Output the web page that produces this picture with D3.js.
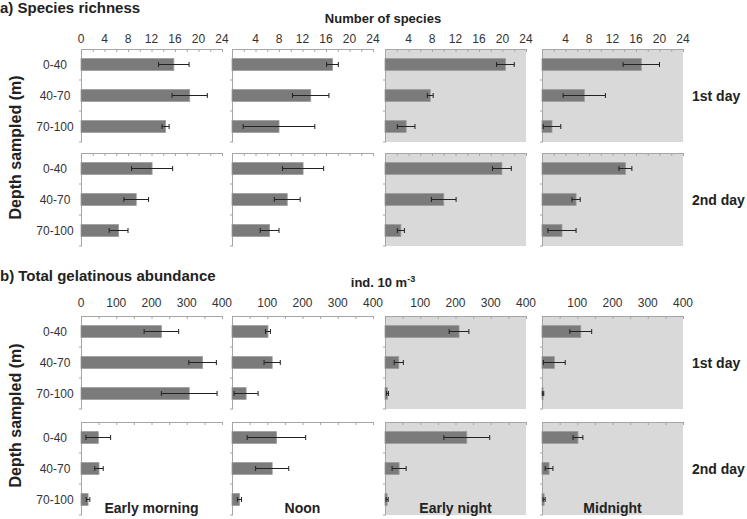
<!DOCTYPE html>
<html><head><meta charset="utf-8">
<script src="https://cdn.jsdelivr.net/npm/d3@7"></script>
<style>body{margin:0;background:#fff}svg{display:block;font-family:"Liberation Sans",Arial,sans-serif}</style>
</head><body><svg id="c" width="747" height="519"></svg>
<script>
const depths = ["0-40", "40-70", "70-100"];
const periods = ["Early morning", "Noon", "Early night", "Midnight"];
const days = ["1st day", "2nd day"];
const nightPeriods = ["Early night", "Midnight"];

const richnessTicks = [0, 4, 8, 12, 16, 20, 24];
const abundanceTicks = [0, 100, 200, 300, 400];

// Species richness (number of species), [period][depth]
const richDay1 = [[15.8, 18.5, 14.4], [17.1, 13.4, 8.0], [20.5, 7.7, 3.6], [16.9, 7.2, 1.7]];
const richDay1Err = [[2.6, 3.0, 0.6], [1.0, 3.1, 6.1], [1.5, 0.5, 1.5], [3.1, 3.6, 1.5]];
const richDay2 = [[12.1, 9.4, 6.4], [12.1, 9.4, 6.4], [19.9, 10.0, 2.7], [14.2, 5.8, 3.4]];
const richDay2Err = [[3.5, 2.1, 1.6], [3.5, 2.2, 1.6], [1.6, 2.1, 0.6], [1.1, 0.7, 2.4]];

// Total gelatinous abundance (ind. 10 m-3), [period][depth]
const abunDay1 = [[228, 345, 307], [102, 114, 40], [210, 39, 7], [110, 35, 3]];
const abunDay1Err = [[49, 39, 79], [7, 23, 34], [28, 13, 3], [31, 31, 2]];
const abunDay2 = [[49, 51, 20], [126, 114, 21], [232, 40, 6], [102, 20, 6]];
const abunDay2Err = [[35, 12, 5], [83, 47, 6], [65, 20, 3], [14, 11, 3]];

const svg = d3.select("#c");
const panelX = [81, 232, 385, 542];
const panelW = 141;
const panelH = 93;
const AX = "#a6a6a6";

const sections = [
  {title: "a) Species richness", titleY: 13, unitY: 23, unit: "Number of species", max: 24,
   ticks: richnessTicks, minor: 2, tops: [49, 153], labelOff: 6,
   data: [[richDay1, richDay1Err], [richDay2, richDay2Err]]},
  {title: "b) Total gelatinous abundance", titleY: 281, unitY: 287, unit: "ind. 10 m", max: 400,
   ticks: abundanceTicks, minor: 50, tops: [316, 422], labelOff: 9,
   data: [[abunDay1, abunDay1Err], [abunDay2, abunDay2Err]]}
];

sections.forEach((s, si) => {
  svg.append("text").attr("x", 0).attr("y", s.titleY).attr("font-size", 15)
    .attr("font-weight", "bold").attr("fill", "#222").text(s.title);
  const ut = svg.append("text").attr("x", 383).attr("y", s.unitY).attr("text-anchor", "middle")
    .attr("font-size", 13).attr("font-weight", "bold").attr("fill", "#222").text(s.unit);
  if (si === 1) ut.append("tspan").attr("dy", -5).attr("font-size", 9).text("-3");

  const midY = (s.tops[0] + s.tops[1] + panelH) / 2;
  svg.append("text").attr("transform", `translate(21,${midY}) rotate(-90)`)
    .attr("text-anchor", "middle").attr("font-size", 16).attr("font-weight", "bold")
    .attr("fill", "#222").text("Depth sampled (m)");

  s.tops.forEach((top, di) => {
    const y = d3.scaleBand().domain(depths).range([top, top + panelH])
      .paddingInner(0.62).paddingOuter(0.31);
    const [vals, errs] = s.data[di];

    svg.append("text").attr("x", 692).attr("y", top + panelH / 2 + 5)
      .attr("font-size", 14).attr("font-weight", "bold").attr("fill", "#222").text(days[di]);

    periods.forEach((p, pi) => {
      const x0 = panelX[pi];
      const x = d3.scaleLinear().domain([0, s.max]).range([x0, x0 + panelW]);
      const g = svg.append("g");
      if (nightPeriods.includes(p)) {
        g.append("rect").attr("x", x0).attr("y", top).attr("width", panelW)
          .attr("height", panelH).attr("fill", "#d9d9d9");
      }
      const minorTicks = d3.range(0, s.max + 0.001, s.minor);
      const ax = d3.axisTop(x).tickValues(minorTicks).tickSize(-3).tickFormat("");
      const axg = g.append("g").attr("transform", `translate(0,${top})`).call(ax);
      axg.select(".domain").attr("stroke", AX);
      axg.selectAll(".tick line").attr("stroke", AX);
      if (di === 0) {
        const lbl = s.ticks.filter(t => pi === 0 || t !== 0);
        g.selectAll(".tl").data(lbl).join("text")
          .attr("x", d => x(d)).attr("y", top - s.labelOff)
          .attr("text-anchor", "middle").attr("font-size", 12).attr("fill", "#333").text(d => d);
      }
      const lay = d3.axisLeft(y).tickSize(0).tickFormat("");
      const lg = g.append("g").attr("transform", `translate(${x0},0)`).call(lay);
      lg.select(".domain").attr("stroke", AX);
      g.selectAll(".bt").data([top + panelH / 3, top + 2 * panelH / 3, top + panelH]).join("line")
        .attr("x1", x0 - 2).attr("x2", x0).attr("y1", d => d).attr("y2", d => d).attr("stroke", AX);
      if (pi === 0) {
        g.selectAll(".dl").data(depths).join("text")
          .attr("x", 55).attr("y", d => y(d) + y.bandwidth() / 2 + 4)
          .attr("text-anchor", "middle").attr("font-size", 12).attr("fill", "#333").text(d => d);
      }
      const v = vals[pi], e = errs[pi];
      g.selectAll(".bar").data(depths).join("rect")
        .attr("x", x(0)).attr("y", d => y(d))
        .attr("width", (d, i) => x(v[i]) - x(0)).attr("height", y.bandwidth())
        .attr("fill", "#7b7b7b").attr("stroke", "#9a9a9a").attr("stroke-width", 0.8);
      depths.forEach((d, i) => {
        const cy = y(d) + y.bandwidth() / 2;
        const lo = Math.max(0, v[i] - e[i]), hi = v[i] + e[i];
        g.append("line").attr("x1", x(lo)).attr("x2", x(hi)).attr("y1", cy).attr("y2", cy)
          .attr("stroke", "#222").attr("stroke-width", 1);
        [lo, hi].forEach(t => g.append("line").attr("x1", x(t)).attr("x2", x(t))
          .attr("y1", cy - 2.5).attr("y2", cy + 2.5).attr("stroke", "#222").attr("stroke-width", 1));
      });
      if (si === 1 && di === 1) {
        g.append("text").attr("x", x0 + panelW / 2).attr("y", 513).attr("text-anchor", "middle")
          .attr("font-size", 14).attr("font-weight", "bold").attr("fill", "#222").text(p);
      }
    });
  });
});
</script></body></html>
